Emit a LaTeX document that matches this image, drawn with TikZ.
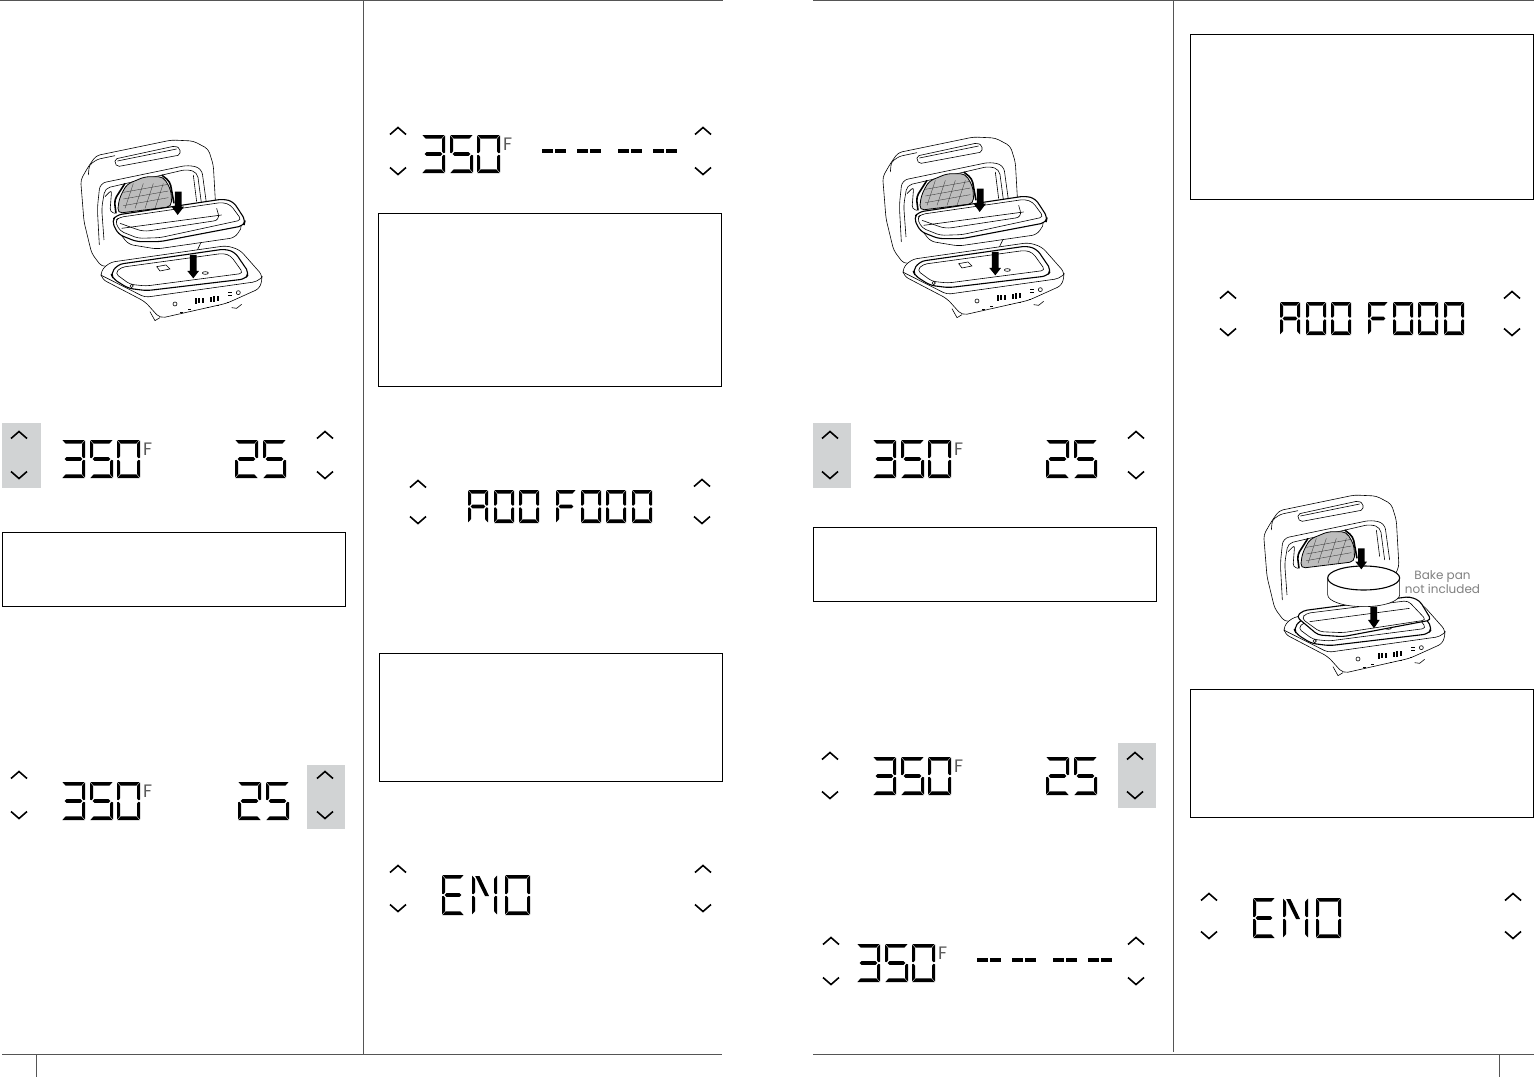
\documentclass[tikz,border=0pt]{standalone}
\usepackage{fontspec}
\setsansfont{Poppins}
\usepackage{tikz}

\definecolor{rule}{HTML}{555555}
\definecolor{keygray}{HTML}{D1D3D4}
\definecolor{gridgray}{HTML}{BDBDBD}

\tikzset{
  rulestroke/.style={draw=rule,line width=1pt},
  notebox/.style={draw=black,line width=.8pt},
  keyshade/.style={fill=keygray},
  chevron/.style={draw=black,line width=1.6pt,line join=miter},
  lcdink/.style={fill=black},
  unitlabel/.style={font=\sffamily\fontsize{18}{18}\selectfont\color{black!65},inner sep=0pt},
  panlabel/.style={font=\sffamily\fontsize{12}{11}\selectfont\color{black!50},inner sep=0pt,align=center},
  body/.style={draw=black,line width=.6pt,line join=round},
  bodyfill/.style={body,fill=white},
  rim/.style={draw=black,line width=1.1pt,line join=round,fill=white},
  fat/.style={fill=black,draw=none},
  gridline/.style={draw=black!80,line width=.35pt},
}

% seven segment parts, \lcdW and \lcdH set by \lcdchar
\def\sega{\fill[lcdink] (.4,0)--(\lcdW-.4,0)--(\lcdW-3.6,3.6)--(3.6,3.6)--cycle;}
\def\segd{\fill[lcdink] (.4,\lcdH)--(\lcdW-.4,\lcdH)--(\lcdW-3.6,\lcdH-3.6)--(3.6,\lcdH-3.6)--cycle;}
\def\segf{\fill[lcdink] (0,.6)--(3,3.8)--(3,\lcdH/2-2.6)--(1.5,\lcdH/2-.8)--(0,\lcdH/2-1.4)--cycle;}
\def\sege{\fill[lcdink] (0,\lcdH-.6)--(3,\lcdH-3.8)--(3,\lcdH/2+2.6)--(1.5,\lcdH/2+.8)--(0,\lcdH/2+1.4)--cycle;}
\def\segb{\fill[lcdink] (\lcdW,.6)--(\lcdW-3,3.8)--(\lcdW-3,\lcdH/2-2.6)--(\lcdW-1.5,\lcdH/2-.8)--(\lcdW,\lcdH/2-1.4)--cycle;}
\def\segc{\fill[lcdink] (\lcdW,\lcdH-.6)--(\lcdW-3,\lcdH-3.8)--(\lcdW-3,\lcdH/2+2.6)--(\lcdW-1.5,\lcdH/2+.8)--(\lcdW,\lcdH/2+1.4)--cycle;}
\def\segg{\fill[lcdink] (2.6,\lcdH/2)--(4.4,\lcdH/2-1.8)--(\lcdW-4.4,\lcdH/2-1.8)--(\lcdW-2.6,\lcdH/2)--(\lcdW-4.4,\lcdH/2+1.8)--(4.4,\lcdH/2+1.8)--cycle;}
\def\segh{\fill[lcdink] (3.2,1)--(7.5,1)--(\lcdW/2+4.5,\lcdH/2+1)--(\lcdW/2+.5,\lcdH/2+1)--cycle;}

\newcommand\lcdchar[5]{%
  \begin{scope}[shift={(#1,#2)}]
    \def\lcdW{#3}\def\lcdH{#4}
    \foreach \s in {#5} {\csname seg\s\endcsname}
  \end{scope}}
% 350 with its unit
\newcommand\lcdtemp[3]{%
  \lcdchar{#1}{#2}{23}{38}{a,b,c,d,g}
  \lcdchar{#1+28}{#2}{23}{38}{a,f,g,c,d}
  \lcdchar{#1+55}{#2}{23}{38}{a,b,c,d,e,f}
  \node[unitlabel,anchor=north west] (#3) at (#1+81,#2+3) {F};}
\newcommand\lcdtime[2]{%
  \lcdchar{#1}{#2}{23}{38}{a,b,g,e,d}
  \lcdchar{#1+28}{#2}{23}{38}{a,f,g,c,d}}
\newcommand\lcdaddfood[2]{%
  \lcdchar{#1}{#2}{20}{33}{a,b,c,e,f,g}
  \lcdchar{#1+26}{#2}{20}{33}{a,b,c,d,e,f}
  \lcdchar{#1+51}{#2}{20}{33}{a,b,c,d,e,f}
  \lcdchar{#1+88}{#2}{20}{33}{a,e,f,g}
  \lcdchar{#1+113}{#2}{20}{33}{a,b,c,d,e,f}
  \lcdchar{#1+138}{#2}{20}{33}{a,b,c,d,e,f}
  \lcdchar{#1+164}{#2}{20}{33}{a,b,c,d,e,f}}
\newcommand\lcdend[2]{%
  \lcdchar{#1}{#2}{22}{40}{a,d,e,f,g}
  \lcdchar{#1+30}{#2}{25}{40}{b,c,e,f,h}
  \lcdchar{#1+63}{#2}{25}{40}{a,b,c,d,e,f}}
\newcommand\lcddashes[2]{%
  \foreach \dx in {0,35,76,111} {
    \fill[lcdink] (#1+\dx,#2-1.6) rectangle (#1+\dx+11,#2+1.6);
    \fill[lcdink] (#1+\dx+13,#2-1.6) rectangle (#1+\dx+24,#2+1.6);
  }}
\newcommand\updown[3]{%
  \draw[chevron] (#1-8,#2+3.5)--(#1,#2-3.5)--(#1+8,#2+3.5);
  \draw[chevron] (#1-8,#3-3.5)--(#1,#3+3.5)--(#1+8,#3-3.5);}

\tikzset{
  ovenlid/.pic={
    \begin{scope}[scale=.3333]
      \path[bodyfill,rounded corners=4pt] (125,425)--(95,385)--(72,290)--(62,165)--(85,125)--(108,92)--(335,45)--(400,48)--(445,72)--(460,120)--(468,260)--(400,400)--cycle;
      \path[body,rounded corners=3pt] (85,150)--(88,120)--(112,103)--(165,92);
      \path[body,rounded corners=2pt] (165,102)--(345,63)--(360,70)--(360,90)--(172,125)--(165,115)--cycle;
      \path[body] (172,108)--(350,72);
      \path[body,rounded corners=6pt] (118,360)--(112,250)--(120,175)--(385,120)--(425,130)--(440,240);
      \path[body,rounded corners=5pt] (132,345)--(125,250)--(135,190)--(380,133)--(412,142)--(425,240);
      \path[body] (400,150)--(410,230);
      \path[body,rounded corners=3pt] (135,215)--(155,195)--(150,260)--(165,265);
      \path[fill=gridgray,draw=black,line width=.8pt,rounded corners=5pt] (172,265)--(178,220)--(200,178)--(255,155)--(310,155)--(333,195)--(335,245)--cycle;
      \path[draw=black,line width=1.6pt,rounded corners=4pt] (168,265)--(163,225)--(195,175);
      \path[draw=black,line width=1.6pt,rounded corners=4pt] (305,150)--(330,170)--(342,235);
      \foreach \hx in {210,240,270,300} {\draw[gridline] (\hx-15,250)--(\hx+10,175);}
      \foreach \hy in {190,210,230} {\draw[gridline] (190,\hy+12)--(325,\hy-12);}
    \end{scope}},
  ovenbase/.pic={
    \begin{scope}[scale=.3333]
      \path[body] (270,560)--(285,587)--(300,578);
      \path[body] (515,548)--(530,550)--(545,538);
      \path[bodyfill,rounded corners=5pt] (122,438)--(150,412)--(500,362)--(540,375)--(608,452)--(600,490)--(500,535)--(300,580)--(255,530)--(125,462)--cycle;
      \path[body,rounded corners=4pt] (122,450)--(255,517)--(590,470)--(608,455);
      \path[rim,rounded corners=5pt] (152,445)--(175,418)--(495,372)--(525,382)--(568,445)--(555,462)--(260,497)--(205,490)--(160,462)--cycle;
      \path[body,rounded corners=4pt] (165,445)--(183,427)--(490,385)--(512,392)--(550,445)--(258,483)--(210,478)--cycle;
      \path[body] (290,425)--(318,420)--(330,432)--(300,438)--cycle;
      \draw[body] (215,483) circle[radius=5];
      \draw[body] (436,444) ellipse[x radius=9,y radius=4];
      \draw[body] (345,537) circle[radius=6];
      \draw[body] (535,503) circle[radius=6];
      \foreach \bx/\by in {405/520,415/519,425/518,450/515,460/514,470/513} {\fill (\bx,\by) rectangle (\bx+6,\by+16);}
      \foreach \by in {500,510} {\fill (505,\by) rectangle (515,\by+3);}
      \foreach \dx/\dy in {360/560,385/552,440/545,470/540,500/532} {\fill (\dx,\dy) rectangle (\dx+8,\dy+1.5);}
    \end{scope}},
  oventray/.pic={
    \begin{scope}[scale=.3333]
      \path[fat] (390,390)--(410,390)--(410,438)--(417,438)--(400,460)--(382,438)--(390,438)--cycle;
      \path[body] (392,358)--(405,338)--(422,352);
      \path[bodyfill,rounded corners=5pt] (165,305)--(205,358)--(290,372)--(525,338)--(550,300)--(400,260)--cycle;
      \path[rim,rounded corners=5pt] (155,288)--(170,270)--(490,222)--(520,230)--(556,285)--(552,302)--(300,350)--(230,350)--(175,328)--cycle;
      \path[body,rounded corners=4pt] (165,288)--(178,277)--(488,232)--(512,240)--(545,285)--(300,338)--(235,340)--(180,318)--cycle;
      \path[body,rounded corners=6pt] (180,295)--(250,320)--(480,285)--(470,250);
      \path[body] (185,310)--(485,270);
      \path[fat] (345,200)--(365,200)--(365,245)--(372,245)--(353,270)--(335,245)--(345,245)--cycle;
    \end{scope}},
  ovencake/.pic={
    \begin{scope}[scale=.3333]
      \path[rim,rounded corners=4pt] (160,410)--(180,392)--(500,350)--(530,362)--(565,420)--(300,470)--(225,465)--cycle;
      \path[body,rounded corners=4pt] (175,415)--(190,400)--(495,362)--(550,420)--(300,458)--(230,455)--cycle;
      \path[body] (200,425)--(500,385);
      \path[fat] (382,380)--(402,380)--(402,420)--(410,420)--(393,445)--(375,420)--(382,420)--cycle;
      \path[bodyfill] (254,294)--(254,344) arc[start angle=180,end angle=0,x radius=108,y radius=36]--(470,294);
      \draw[rim] (362,294) ellipse[x radius=108,y radius=36];
      \path[fat] (345,205)--(365,205)--(365,245)--(372,245)--(355,268)--(337,245)--(345,245)--cycle;
    \end{scope}},
}

\begin{document}
\begin{tikzpicture}[x=1pt,y=-1pt]
  \useasboundingbox (0,0) rectangle (1534,1077);

  % page rules
  \draw[rulestroke] (0,.5)--(723,.5) (813,.5)--(1534,.5);
  \draw[rulestroke] (363,0)--(363,1054) (1173,0)--(1173,1052);
  \draw[rulestroke] (2,1054)--(722,1054) (813,1054)--(1534,1054);
  \draw[rulestroke] (36,1054)--(36,1077) (1499,1054)--(1499,1077);

  % note boxes
  \draw[notebox] (2,532) rectangle (345,606);
  \draw[notebox] (378,213) rectangle (721,386);
  \draw[notebox] (379,653) rectangle (722,781);
  \draw[notebox] (813,527) rectangle (1156,601);
  \draw[notebox] (1190,34) rectangle (1533,199);
  \draw[notebox] (1190,689) rectangle (1533,817);

  % pressed keys
  \fill[keyshade] (2,423) rectangle (41,488);
  \fill[keyshade] (307,765) rectangle (345,829);
  \fill[keyshade] (813,423) rectangle (851,488);
  \fill[keyshade] (1118,743) rectangle (1156,808);

  % first page
  \pic at (60,125) {ovenlid};
  \pic at (60,125) {ovenbase};
  \pic at (60,125) {oventray};

  \updown{19}{435}{475}
  \lcdtemp{62}{440}{unitA}
  \lcdtime{235}{440}
  \updown{325}{435}{475}

  \updown{19}{775}{815}
  \lcdtemp{62}{782}{unitB}
  \lcdtime{238}{782}
  \updown{325}{775}{815}

  \updown{398}{131}{171}
  \lcdtemp{422}{135}{unitC}
  \lcddashes{541.5}{151}
  \updown{703}{131}{171}

  \updown{418}{484}{520}
  \lcdaddfood{468}{490}
  \updown{702}{483}{520}

  \updown{398}{869}{908}
  \lcdend{442}{875}
  \updown{703}{869}{908}

  % second page
  \pic at (862,122) {ovenlid};
  \pic at (862,122) {ovenbase};
  \pic at (862,122) {oventray};

  \updown{830}{435}{475}
  \lcdtemp{873}{440}{unitD}
  \lcdtime{1046}{440}
  \updown{1136}{435}{475}

  \updown{830}{756}{795}
  \lcdtemp{873}{757}{unitE}
  \lcdtime{1046}{757}
  \updown{1135}{756}{795}

  \updown{831}{941}{981}
  \lcdtemp{857}{944}{unitF}
  \lcddashes{977}{960}
  \updown{1136}{941}{981}

  \updown{1228}{295}{332}
  \lcdaddfood{1280}{302}
  \updown{1512}{295}{332}

  \pic at (1243,480) {ovenlid};
  \pic at (1243,480) {ovenbase};
  \pic at (1243,480) {ovencake};
  \node[panlabel] (panlabel) at (1442.5,582) {Bake pan\\not included};

  \updown{1209}{897}{935}
  \lcdend{1253}{898}
  \updown{1513}{897}{935}
\end{tikzpicture}
\end{document}
